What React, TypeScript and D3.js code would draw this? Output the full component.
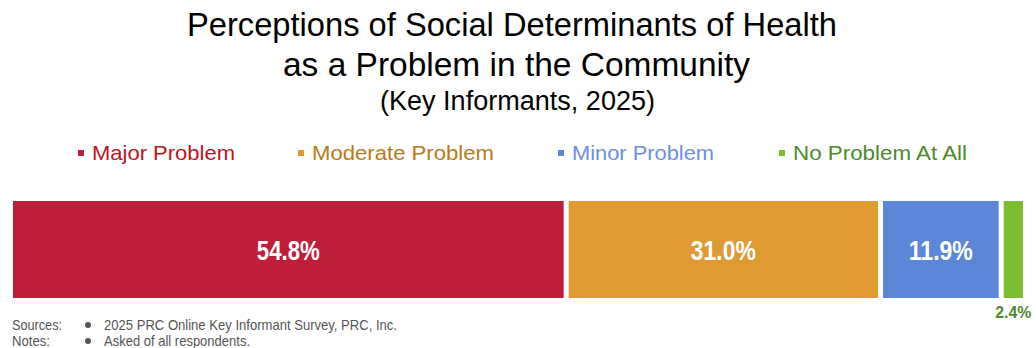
import React from "react";
import * as d3 from "d3";

const categories = ["Major Problem", "Moderate Problem", "Minor Problem", "No Problem At All"];
const values = [54.8, 31.0, 11.9, 2.4];
const barColors = ["#BE1E3A", "#DF9A34", "#5B87D6", "#7CBE31"];
const legendTextColors = ["#BE1421", "#B97B17", "#6E8FDF", "#4D8A2B"];
const titleLines = ["Perceptions of Social Determinants of Health", "as a Problem in the Community"];
const subtitle = "(Key Informants, 2025)";
const footLabels = ["Sources:", "Notes:"];
const footTexts = ["2025 PRC Online Key Informant Survey, PRC, Inc.", "Asked of all respondents."];

const W = 1036;
const H = 348;

export default function App() {
  const total = d3.sum(values);
  const x = d3.scaleLinear().domain([0, total]).range([10.5, 1025.5]);
  const stacked = values.map((v, i) => {
    const start = d3.sum(values.slice(0, i));
    return { v, i, x0: x(start), x1: x(start + v) };
  });
  const y0 = 201;
  const y1 = 298;
  const inset = 2.5;
  const legendX = [78, 298, 558, 779];
  const legendW = [143, 182, 142, 174];
  const labelW = [63, 65, 64, 36];
  const footLabelW = [50, 38];
  const footTextW = [293, 146];
  const sans = "'Liberation Sans', Arial, Helvetica, sans-serif";
  const LA = "spacingAndGlyphs";
  return (
    <svg width={W} height={H} style={{ position: "absolute", left: 0, top: 0, background: "#fff" }}>
      <g fontFamily={sans} fill="#000">
        <text x={187} y={36} fontSize={34} textLength={650} lengthAdjust={LA}>{titleLines[0]}</text>
        <text x={283} y={76} fontSize={34} textLength={467} lengthAdjust={LA}>{titleLines[1]}</text>
        <text x={380} y={110} fontSize={27} textLength={275} lengthAdjust={LA}>{subtitle}</text>
      </g>
      <g fontFamily={sans} fontSize={21}>
        {categories.map((c, i) => (
          <g key={c}>
            <rect x={legendX[i]} y={150} width={6} height={6} fill={barColors[i]} />
            <text x={legendX[i] + 14} y={160} fill={legendTextColors[i]} textLength={legendW[i]} lengthAdjust={LA}>{c}</text>
          </g>
        ))}
      </g>
      <g>
        {stacked.map((d) => (
          <rect key={d.i} x={d.x0 + inset} y={y0} width={Math.max(0, d.x1 - d.x0 - 2 * inset)} height={y1 - y0} fill={barColors[d.i]} />
        ))}
      </g>
      <g fontFamily={sans} fontWeight="bold">
        {stacked.map((d) => {
          const cx = (d.x0 + d.x1) / 2;
          const w = labelW[d.i];
          return d.v >= 5 ? (
            <text key={d.i} x={cx - w / 2} y={(y0 + y1) / 2 + 10} fontSize={28} fill="#fff" textLength={w} lengthAdjust={LA}>
              {d.v.toFixed(1) + "%"}
            </text>
          ) : (
            <text key={d.i} x={cx - w / 2} y={318} fontSize={16} fill="#4D8A2B" textLength={w} lengthAdjust={LA}>
              {d.v.toFixed(1) + "%"}
            </text>
          );
        })}
      </g>
      <g fontFamily={sans} fontSize={15} fill="#555">
        {footLabels.map((l, i) => (
          <g key={l}>
            <text x={12} y={330 + i * 16} textLength={footLabelW[i]} lengthAdjust={LA}>{l}</text>
            <circle cx={88} cy={325 + i * 16} r={3} fill="#555" />
            <text x={104} y={330 + i * 16} textLength={footTextW[i]} lengthAdjust={LA}>{footTexts[i]}</text>
          </g>
        ))}
      </g>
    </svg>
  );
}
